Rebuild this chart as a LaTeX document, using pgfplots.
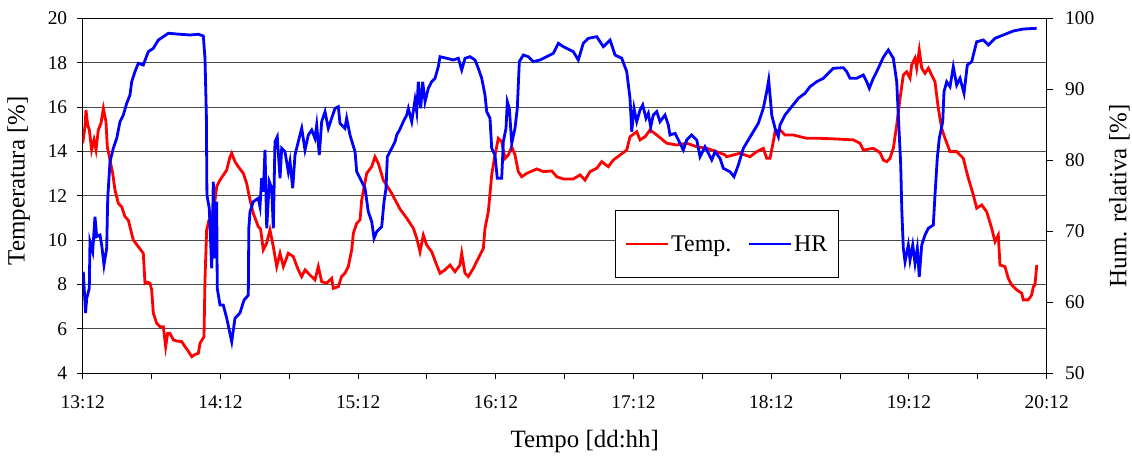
\documentclass[border=0pt]{standalone}
\usepackage{fontspec}
\setmainfont{Liberation Serif}
\usepackage{pgfplots}
\pgfplotsset{compat=1.18}

% hours after 13:12
\pgfplotstableread{
h T
0 14.37
0.40 15.12
0.57 15.87
0.87 15.19
1.16 14.97
1.56 14.07
1.97 14.52
2.32 14.07
2.72 14.97
3.19 15.27
3.60 15.94
4.06 15.34
4.29 14.21
4.76 13.61
5.23 13.01
5.63 12.26
6.21 11.66
6.80 11.50
7.37 11.06
7.95 10.90
8.24 10.60
8.82 10.01
9.69 9.71
10.56 9.41
10.86 8.05
11.30 8.10
11.73 8.06
12.02 7.76
12.31 6.71
12.90 6.25
13.50 6.10
14.05 6.10
14.46 5.20
14.80 5.80
15.21 5.80
15.80 5.50
16.50 5.45
17.25 5.43
17.83 5.20
18.40 5.00
19.00 4.75
19.60 4.85
20.15 4.90
20.44 5.35
21.14 5.65
21.31 8.20
21.60 10.46
22.00 10.90
22.48 11.00
23.06 11.80
23.35 12.41
23.93 12.71
25.10 13.16
25.67 13.76
25.96 13.92
26.54 13.54
27.12 13.31
27.99 13.01
28.58 12.56
29.16 11.81
29.73 11.21
30.60 10.61
31.00 10.50
31.48 9.56
32.06 9.86
32.64 10.46
33.22 9.71
33.81 8.81
34.39 9.41
34.97 8.81
35.83 9.41
36.70 9.26
37.57 8.66
38.16 8.36
38.74 8.66
39.61 8.43
40.48 8.21
41.06 8.81
41.65 8.13
42.52 8.06
43.39 8.28
43.67 7.83
44.54 7.90
45.13 8.36
45.71 8.51
46.29 8.81
46.88 9.56
47.17 10.31
47.75 10.76
48.33 10.91
48.62 11.81
49.49 13.01
50.36 13.31
50.94 13.76
51.52 13.46
52.39 12.71
53.85 12.11
55.30 11.40
56.47 10.99
57.62 10.54
58.21 10.09
58.78 9.48
59.36 10.23
59.95 9.78
60.82 9.48
61.69 8.88
62.27 8.51
63.14 8.66
64.01 8.88
64.88 8.58
65.75 8.88
66.05 9.41
66.62 8.51
67.20 8.36
68.07 8.73
68.94 9.18
69.82 9.63
70.11 10.54
70.69 11.28
71.28 12.94
71.85 13.84
72.43 14.59
73.02 14.44
73.60 13.69
74.17 13.84
74.77 14.21
75.34 13.84
75.91 13.09
76.51 12.86
77.38 13.01
79.12 13.21
80.27 13.09
81.74 13.12
82.61 12.86
83.76 12.76
85.50 12.76
86.67 12.94
87.54 12.71
88.41 13.09
89.58 13.24
90.45 13.54
91.60 13.31
92.47 13.61
93.64 13.84
94.81 14.06
95.38 14.66
96.55 14.89
97.13 14.52
98.00 14.66
98.87 14.97
100.04 14.74
101.78 14.37
103.52 14.29
105.26 14.37
107.01 14.21
108.75 14.14
110.49 13.99
111.94 13.84
112.23 13.76
114.55 13.92
116.29 13.76
117.46 13.99
118.61 14.14
119.20 13.69
119.78 13.69
120.36 14.44
120.65 14.89
121.52 14.97
122.39 14.74
123.84 14.74
126.18 14.59
128.49 14.59
131.40 14.56
134.30 14.52
135.46 14.37
136.04 14.06
137.78 14.14
138.95 13.95
139.52 13.61
140.12 13.54
140.69 13.69
141.27 14.14
141.86 15.19
142.44 16.39
143.01 17.44
143.60 17.59
144.18 17.30
144.47 17.90
145.05 18.20
145.34 17.75
145.79 18.57
146.22 17.75
146.79 17.52
147.37 17.75
147.96 17.44
148.53 17.14
149.11 15.94
149.70 15.04
150.28 14.59
151.15 13.99
152.31 13.99
153.46 13.69
154.34 12.79
155.21 12.04
155.80 11.44
156.67 11.59
157.54 11.28
158.41 10.54
158.99 9.93
159.56 10.23
159.86 8.88
160.73 8.81
161.30 8.28
161.90 7.98
162.77 7.76
163.64 7.61
163.92 7.31
164.79 7.31
165.38 7.53
165.66 7.90
165.95 7.98
166.27 8.88
}\temp

\pgfplotstableread{
h H
0.10 64.30
0.50 58.50
0.70 60.56
1.15 61.97
1.27 68.54
1.74 67.13
2.14 72.06
2.44 69.24
3.02 69.48
3.31 68.07
3.71 65.25
4.18 67.61
4.36 74.65
4.76 79.80
5.05 80.75
5.33 81.69
5.93 83.10
6.50 85.44
7.08 86.38
7.67 88.03
8.24 89.20
8.54 91.07
9.11 92.48
9.69 93.66
10.56 93.42
11.43 95.30
12.30 95.77
13.18 96.94
14.05 97.41
14.92 97.89
16.96 97.75
18.70 97.65
20.15 97.75
21.02 97.51
21.31 94.37
21.55 86.38
21.65 75.11
22.06 73.24
22.48 64.79
22.76 76.99
23.06 66.20
23.35 74.17
23.45 61.97
23.93 59.62
24.50 59.62
25.10 57.75
25.97 54.45
26.54 57.75
27.41 58.50
28.11 60.30
28.86 61.00
28.95 70.42
29.16 72.76
29.73 74.17
30.60 74.65
30.90 73.46
31.19 77.46
31.47 75.58
31.77 81.45
32.07 70.42
32.52 76.99
32.94 76.06
33.22 70.42
33.51 82.62
33.91 83.32
34.39 77.46
34.68 81.69
35.25 81.21
35.83 78.39
36.13 79.80
36.60 76.06
37.00 80.75
37.57 82.62
38.17 84.51
38.74 81.45
39.32 83.56
39.91 84.27
40.48 83.10
40.78 84.97
41.23 80.75
41.65 85.44
42.23 86.85
42.80 84.51
43.39 85.92
43.97 87.32
44.55 87.55
44.84 85.21
45.71 84.51
46.00 85.92
46.58 83.56
47.46 81.21
47.75 78.39
48.62 76.99
49.20 76.06
49.77 72.76
50.37 71.35
50.77 69.01
51.24 69.94
52.11 70.65
52.51 74.17
52.86 76.06
53.09 80.51
53.85 81.69
54.43 82.62
54.72 83.56
55.30 84.40
55.87 85.44
56.47 86.38
56.75 87.32
57.34 85.44
57.91 88.49
58.21 86.85
58.49 91.07
58.90 87.32
59.25 91.07
59.66 88.25
60.23 90.14
60.82 91.07
61.40 91.55
61.97 93.18
62.27 94.59
63.44 94.37
64.59 94.13
65.46 94.37
66.05 92.72
66.63 94.37
67.50 94.59
68.37 94.13
68.94 92.96
69.54 91.55
70.11 89.20
70.41 86.85
70.98 85.92
71.28 81.69
71.85 80.75
72.25 77.46
73.02 77.46
73.30 82.62
73.77 84.51
74.00 88.25
74.35 87.32
74.77 82.39
75.34 84.51
75.74 87.32
76.09 93.89
76.79 94.83
77.66 94.59
78.53 93.89
79.70 94.13
80.86 94.59
82.01 95.07
82.89 96.48
83.76 96.00
84.35 95.77
85.50 95.30
86.37 94.13
87.24 96.48
88.11 97.18
89.58 97.41
90.73 96.00
91.90 96.94
92.77 94.83
93.94 94.37
94.81 92.48
95.38 88.73
95.68 84.03
96.08 87.32
96.55 85.44
97.13 87.08
97.60 87.79
98.17 85.92
98.57 86.62
98.99 84.73
99.44 86.38
100.04 86.85
100.61 85.44
101.48 86.38
102.06 84.97
102.35 83.56
103.22 83.80
104.09 82.39
104.67 81.45
105.26 82.86
106.13 83.56
107.01 82.86
107.58 80.51
108.45 81.92
109.03 80.99
109.62 80.04
110.20 81.21
111.07 80.28
111.64 78.87
112.81 78.39
113.50 77.69
114.26 79.34
115.13 81.69
116.00 82.86
116.87 84.03
117.74 85.21
118.61 87.32
119.20 89.66
119.55 91.31
119.78 89.20
120.08 86.38
120.65 84.51
121.23 83.32
121.52 84.97
122.39 86.38
123.56 87.55
124.71 88.73
125.88 89.44
126.75 90.37
127.92 91.07
129.07 91.55
129.94 92.25
130.81 92.96
132.56 93.04
133.15 92.48
133.72 91.55
134.89 91.55
136.04 92.01
136.63 91.07
137.08 90.14
137.78 91.55
138.37 92.48
138.95 93.50
139.52 94.50
140.40 95.54
141.27 94.37
141.86 91.07
142.14 86.38
142.56 79.34
142.74 73.24
143.01 67.61
143.31 65.72
143.88 68.07
144.18 65.96
144.65 68.07
145.05 65.49
145.45 67.61
145.79 63.61
146.22 68.07
146.79 69.48
147.37 70.42
148.24 70.89
148.53 75.11
148.93 80.28
149.28 83.10
149.88 85.44
150.10 89.66
150.57 91.07
151.15 90.37
151.72 93.18
152.31 90.60
152.89 91.55
153.59 89.44
154.16 93.42
154.93 93.89
155.50 95.77
155.80 96.70
156.95 96.94
157.82 96.24
158.99 97.18
160.44 97.65
162.18 98.21
163.92 98.49
166.25 98.59
}\hr

\pgfplotsset{
  common/.style={
    scale only axis, width=964bp, height=355bp,
    xmin=0, xmax=168,
    tick align=outside,
    major tick length=6bp, minor tick length=6bp,
    axis line style={line width=1.1bp},
    tick style={line width=1bp, black},
    /pgf/number format/assume math mode=true,
    tick label style={font=\fontsize{19.5}{20}\selectfont},
    label style={font=\fontsize{25}{27}\selectfont},
  },
}

\begin{document}
\begin{tikzpicture}
\begin{axis}[common, name=main,
    ymin=4, ymax=20, ytick={4,6,...,20},
    xtick={0,24,...,168},
    xticklabels={13:12,14:12,15:12,16:12,17:12,18:12,19:12,20:12},
    minor xtick={12,36,...,156},
    xtick pos=bottom, ytick pos=left,
    xticklabel style={yshift=-13bp},
    yticklabel style={xshift=-6bp},
    ymajorgrids, grid style={black!70, line width=0.9bp},
    xlabel={Tempo [dd:hh]}, ylabel={Temperatura [\%]},
    xlabel shift=14bp, ylabel shift=8bp,
    xlabel style={xshift=20bp}, ylabel style={xshift=15bp, yshift=3bp},
]
\addplot[red, line width=2.8bp] table[x=h, y=T] {\temp};
\end{axis}
\begin{axis}[common,
    ymin=50, ymax=100, ytick={50,60,...,100},
    axis x line=none, axis y line*=right,
    yticklabel style={xshift=9bp},
    ylabel={Hum. relativa [\%]}, ylabel shift=8bp,
    legend columns=2,
    legend style={at={(0.5522,0.46)}, anchor=north west, draw=black,
      line width=0.8bp, font=\fontsize{24}{26}\selectfont,
      inner xsep=9bp, inner ysep=23bp,
      /tikz/every even column/.append style={column sep=14bp}},
    legend image code/.code={\draw[#1] (0bp,0bp) -- (42bp,0bp);},
]
\addlegendimage{red, line width=2.8bp}
\addlegendentry{Temp.}
\addplot[blue, line width=2.8bp] table[x=h, y=H] {\hr};
\addlegendentry{HR}
\end{axis}
\pgfresetboundingbox
\path[use as bounding box] ([shift={(-82.7bp,-82.7bp)}]main.south west)
  rectangle ([shift={(85.3bp,18.3bp)}]main.north east);
\end{tikzpicture}
\end{document}
